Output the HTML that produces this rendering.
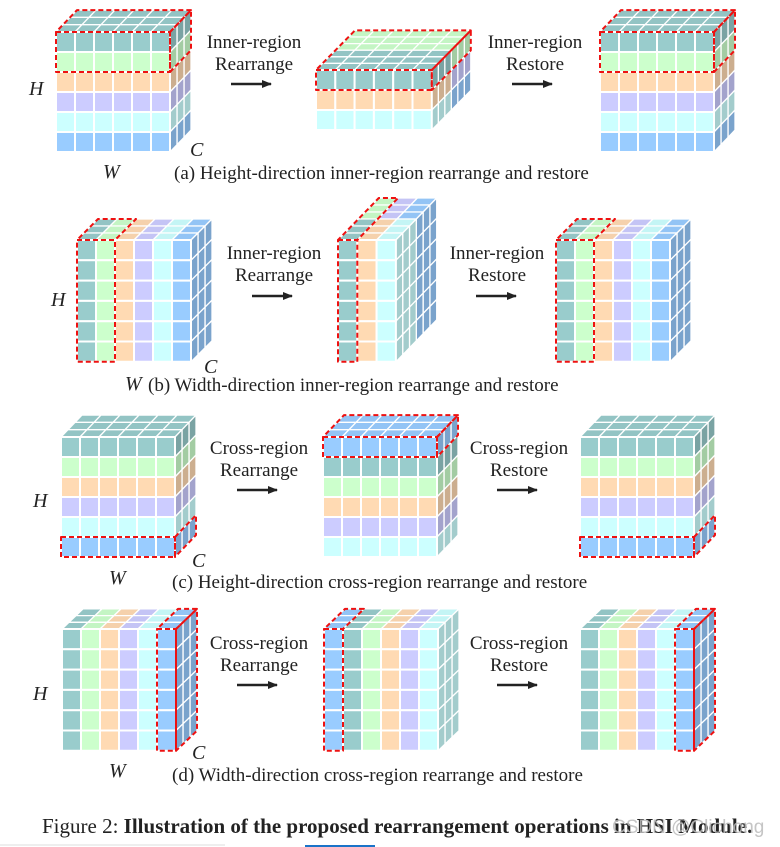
<!DOCTYPE html>
<html><head><meta charset="utf-8">
<style>
html,body{margin:0;padding:0;background:#fff;}
svg{display:block;}
text{font-family:"Liberation Serif",serif;fill:#222;}
.l{font-size:19px;text-anchor:middle;}
.cap{font-size:19px;}
.it{font-size:20px;font-style:italic;}
</style></head>
<body>
<svg id="s" width="780" height="847" viewBox="0 0 780 847" xmlns="http://www.w3.org/2000/svg">
<g id="cubes"></g>
<defs><marker id="ah" markerWidth="10" markerHeight="8" refX="9" refY="4" orient="auto" markerUnits="userSpaceOnUse"><path d="M0,0 L10,4 L0,8 z" fill="#222"/></marker></defs>
<!-- (a) -->
<text class="l" x="254" y="48">Inner-region</text><text class="l" x="254" y="70">Rearrange</text>
<line x1="231" y1="84" x2="271" y2="84" stroke="#222" stroke-width="2.5" marker-end="url(#ah)"/>
<text class="l" x="535" y="48">Inner-region</text><text class="l" x="535" y="70">Restore</text>
<line x1="512" y1="84" x2="552" y2="84" stroke="#222" stroke-width="2.5" marker-end="url(#ah)"/>
<text class="it" x="29" y="95">H</text><text class="it" x="103" y="178">W</text><text class="it" x="190" y="156">C</text>
<text class="cap" x="174" y="179">(a) Height-direction inner-region rearrange and restore</text>
<!-- (b) -->
<text class="l" x="274" y="259">Inner-region</text><text class="l" x="274" y="281">Rearrange</text>
<line x1="252" y1="296" x2="292" y2="296" stroke="#222" stroke-width="2.5" marker-end="url(#ah)"/>
<text class="l" x="497" y="259">Inner-region</text><text class="l" x="497" y="281">Restore</text>
<line x1="476" y1="296" x2="516" y2="296" stroke="#222" stroke-width="2.5" marker-end="url(#ah)"/>
<text class="it" x="51" y="306">H</text><text class="it" x="125" y="390">W</text><text class="it" x="204" y="373">C</text>
<text class="cap" x="148" y="391">(b) Width-direction inner-region rearrange and restore</text>
<!-- (c) -->
<text class="l" x="259" y="454">Cross-region</text><text class="l" x="259" y="476">Rearrange</text>
<line x1="237" y1="490" x2="277" y2="490" stroke="#222" stroke-width="2.5" marker-end="url(#ah)"/>
<text class="l" x="519" y="454">Cross-region</text><text class="l" x="519" y="476">Restore</text>
<line x1="497" y1="490" x2="537" y2="490" stroke="#222" stroke-width="2.5" marker-end="url(#ah)"/>
<text class="it" x="33" y="507">H</text><text class="it" x="109" y="584">W</text><text class="it" x="192" y="567">C</text>
<text class="cap" x="172" y="588">(c) Height-direction cross-region rearrange and restore</text>
<!-- (d) -->
<text class="l" x="259" y="649">Cross-region</text><text class="l" x="259" y="671">Rearrange</text>
<line x1="237" y1="685" x2="277" y2="685" stroke="#222" stroke-width="2.5" marker-end="url(#ah)"/>
<text class="l" x="519" y="649">Cross-region</text><text class="l" x="519" y="671">Restore</text>
<line x1="497" y1="685" x2="537" y2="685" stroke="#222" stroke-width="2.5" marker-end="url(#ah)"/>
<text class="it" x="33" y="700">H</text><text class="it" x="109" y="777">W</text><text class="it" x="192" y="759">C</text>
<text class="cap" x="172" y="781">(d) Width-direction cross-region rearrange and restore</text>
<!-- caption -->
<text x="42" y="833" style="font-size:21px">Figure 2: <tspan style="font-weight:bold">Illustration of the proposed rearrangement operations in HSI Module.</tspan></text>
<text x="612" y="833" style="font-size:19px;fill:#bbb;fill-opacity:0.85;font-family:'Liberation Sans',sans-serif">CSDN @Clichong</text>
<line x1="0" y1="845" x2="225" y2="845" stroke="#ddd" stroke-width="1"/>
<line x1="305" y1="846" x2="375" y2="846" stroke="#1a73c8" stroke-width="2"/>
</svg>
<script>
var C={t:'#99cccc',g:'#ccffcc',o:'#ffdab3',l:'#ccccff',c:'#ccffff',b:'#99ccff'};
function dark(h,f){var n=parseInt(h.slice(1),16);var r=(n>>16)&255,g=(n>>8)&255,b=n&255;
 r=Math.round(r*f);g=Math.round(g*f);b=Math.round(b*f);return 'rgb('+r+','+g+','+b+')';}
var G=document.getElementById('cubes'),NS='http://www.w3.org/2000/svg';
function poly(pts,fill,stroke,sw,dash){var p=document.createElementNS(NS,'polygon');
 p.setAttribute('points',pts.map(function(a){return a[0].toFixed(1)+','+a[1].toFixed(1)}).join(' '));
 p.setAttribute('fill',fill);p.setAttribute('stroke',stroke);p.setAttribute('stroke-width',sw);
 if(dash)p.setAttribute('stroke-dasharray',dash);p.setAttribute('stroke-linejoin','round');G.appendChild(p);}
function cube(o){var x=o.x,y=o.y,cw=o.cw,ch=o.ch,dx=o.dx,dy=o.dy,D=o.d;
 for(var d=D-1;d>=0;d--)for(var c=0;c<o.cols;c++){var X=x+c*cw+d*dx,Y=y+d*dy;
  poly([[X,Y],[X+cw,Y],[X+cw+dx,Y+dy],[X+dx,Y+dy]],dark(o.top(c,d),0.96),'#fff',1.3);}
 for(var d=D-1;d>=0;d--)for(var r=0;r<o.rows;r++){var X=x+o.cols*cw+d*dx,Y=y+r*ch+d*dy;
  poly([[X,Y],[X+dx,Y+dy],[X+dx,Y+dy+ch],[X,Y+ch]],dark(o.side(d,r),0.8),'#fff',1.3);}
 for(var r=0;r<o.rows;r++)for(var c=0;c<o.cols;c++){var X=x+c*cw,Y=y+r*ch;
  poly([[X,Y],[X+cw,Y],[X+cw,Y+ch],[X,Y+ch]],o.front(c,r),'#fff',2);}
 if(o.red){var q=o.red,x0=x+q[0]*cw,x1=x+(q[1]+1)*cw,y0=y+q[2]*ch,y1=y+(q[3]+1)*ch,ex=D*dx,ey=D*dy,RS='#ee1111',DA='5,3';
  if(q[2]==0)poly([[x0,y0],[x1,y0],[x1+ex,y0+ey],[x0+ex,y0+ey]],'none',RS,2,DA);
  if(q[1]==o.cols-1)poly([[x1,y0],[x1+ex,y0+ey],[x1+ex,y1+ey],[x1,y1]],'none',RS,2,DA);
  poly([[x0,y0],[x1,y0],[x1,y1],[x0,y1]],'none',RS,2,DA);}
}
var rowsH=['t','g','o','l','c','b'];
function hcube(x,y,order,red){cube({x:x,y:y,cols:6,rows:6,cw:19,ch:20,d:3,dx:7,dy:-7.3,
 front:function(c,r){return C[order[r]]},top:function(c,d){return C[order[0]]},side:function(d,r){return C[order[r]]},red:red});}
function wcube(x,y,order,red){cube({x:x,y:y,cols:6,rows:6,cw:19,ch:20.3,d:3,dx:7,dy:-7,
 front:function(c,r){return C[order[c]]},top:function(c,d){return C[order[c]]},side:function(d,r){return C[order[5]]},red:red});}
// (a)
hcube(56,32,rowsH,[0,5,0,1]);
cube({x:316,y:70,cols:6,rows:3,cw:19.3,ch:20,d:6,dx:6.5,dy:-6.6,
 front:function(c,r){return C[['t','o','c'][r]]},
 top:function(c,d){return C[d<3?'t':'g']},
 side:function(d,r){return C[d<3?['t','o','c'][r]:['g','l','b'][r]]},red:[0,5,0,0]});
hcube(600,32,rowsH,[0,5,0,1]);
// (b)
wcube(77,240,rowsH,[0,1,0,5]);
cube({x:338,y:240,cols:3,rows:6,cw:19.3,ch:20.3,d:6,dx:6.8,dy:-7,
 front:function(c,r){return C[['t','o','c'][c]]},
 top:function(c,d){return C[d<3?['t','o','c'][c]:['g','l','b'][c]]},
 side:function(d,r){return C[d<3?'c':'b']},red:[0,0,0,5]});
wcube(556,240,rowsH,[0,1,0,5]);
// (c)
hcube(61,437,rowsH,[0,5,5,5]);
hcube(323,437,['b','t','g','o','l','c'],[0,5,0,0]);
hcube(580,437,rowsH,[0,5,5,5]);
// (d)
function dcube(x,order,red){cube({x:x,y:629,cols:6,rows:6,cw:19,ch:20.3,d:3,dx:7,dy:-6.7,
 front:function(c,r){return C[order[c]]},top:function(c,d){return C[order[c]]},side:function(d,r){return C[order[5]]},red:red});}
dcube(62,rowsH,[5,5,0,5]);
dcube(324,['b','t','g','o','l','c'],[0,0,0,5]);
dcube(580,rowsH,[5,5,0,5]);
</script>
</body></html>
